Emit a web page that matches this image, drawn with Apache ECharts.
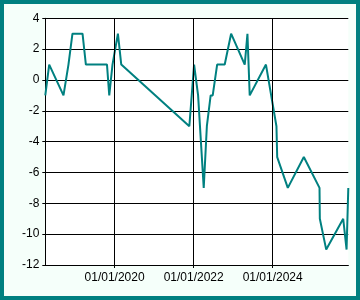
<!DOCTYPE html>
<html><head><meta charset="utf-8">
<script src="https://cdn.jsdelivr.net/npm/echarts@6/dist/echarts.min.js"></script>
<style>
html,body{margin:0;padding:0;background:#fff;}
#c{width:360px;height:300px;box-sizing:border-box;border:4px solid #008080;background:#F5FFFA;}
</style></head><body>
<div id="c"></div>
<script>
const dates = ['2018-04-01','2018-05-07','2018-09-16','2018-11-01','2018-12-08','2019-03-11','2019-04-11','2019-10-23','2019-11-13','2019-12-13','2020-02-01','2020-03-03','2021-11-22','2022-01-05','2022-02-11','2022-04-04','2022-05-03','2022-06-07','2022-06-26','2022-08-06','2022-10-15','2022-12-13','2023-04-18','2023-05-13','2023-06-03','2023-10-31','2024-02-05','2024-02-12','2024-05-20','2024-10-15','2025-03-09','2025-03-12','2025-05-10','2025-10-14','2025-11-14','2025-11-30'];
const values = [-1,1,-1,1,3,3,1,1,-1,1,3,1,-3,1,-1,-7,-3,-1,-1,1,1,3,1,3,-1,1,-3,-5,-7,-5,-7,-9,-11,-9,-11,-7];
const xTickDates = ['2020-01-01','2022-01-01','2024-01-01'];
const xTickLabels = ['01/01/2020','01/01/2022','01/01/2024'];
const yMin = -12, yMax = 4, yStep = 2;

function toTime(s){const p=s.split('-').map(Number);return Date.UTC(p[0],p[1]-1,p[2]);}
const tickTimes = xTickDates.map(toTime);
const seriesData = dates.map((d,i)=>[toTime(d), values[i]]);

const chart = echarts.init(document.getElementById('c'), null, {renderer:'canvas'});
chart.setOption({
  animation:false,
  backgroundColor:'transparent',
  textStyle:{fontFamily:'Liberation Sans, Arial, sans-serif'},
  grid:{left:41.3, right:7.7, top:14.3, bottom:31, show:true, backgroundColor:'#ffffff', borderWidth:0},
  xAxis:{
    type:'value', min:'dataMin', max:'dataMax', scale:true,
    axisLine:{show:true, onZero:false, lineStyle:{color:'#000', width:1}},
    axisTick:{show:true, length:3, lineStyle:{color:'#000'}, customValues:tickTimes},
    axisLabel:{color:'#000', fontSize:12, margin:7, customValues:tickTimes,
      formatter:function(v){const i=tickTimes.indexOf(v);return i>=0?xTickLabels[i]:'';}},
    splitLine:{show:false}
  },
  yAxis:{
    type:'value', min:yMin, max:yMax, interval:yStep,
    axisLine:{show:true, lineStyle:{color:'#000', width:1}},
    axisTick:{show:true, length:3, lineStyle:{color:'#000'}},
    axisLabel:{color:'#000', fontSize:12, margin:6},
    splitLine:{show:true, lineStyle:{color:'#000', width:1}}
  },
  series:[
    {type:'line', data:[], z:1, silent:true,
     markLine:{silent:true, symbol:['none','none'], label:{show:false},
       lineStyle:{color:'#000', width:1, type:'solid'},
       data: tickTimes.map(t=>({xAxis:t}))}},
    {type:'line', data:seriesData, z:3, showSymbol:false, symbol:'none',
     lineStyle:{color:'#008080', width:2}, itemStyle:{color:'#008080'}}
  ]
});
</script>
</body></html>
